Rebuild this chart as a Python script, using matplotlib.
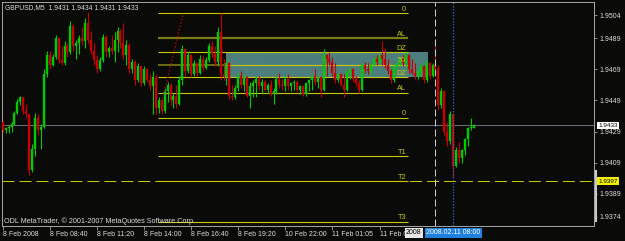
import numpy as np
import matplotlib.pyplot as plt
from matplotlib.patches import Rectangle

plt.rcParams['font.family'] = ['Liberation Sans', 'DejaVu Sans']

BG = '#0a0a08'
GREEN = '#00cc00'
RED = '#c80000'
YELLOW = '#c8c800'
OLIVE = '#7c7c14'
TEAL = '#4d7e7e'
AXIS = '#a0a0a0'
TXT = '#dcdcdc'

# --- M5 candles, pips above 1.9000 (433 -> 1.9433) ---
opens = [435, 430, 431, 432, 434, 441, 448, 451, 442, 440, 404, 418, 438, 430, 432, 466,
         478, 472, 477, 489, 475, 473, 484, 480, 497, 484, 486, 489, 487, 499, 488, 481,
         475, 469, 475, 490, 480, 483, 481, 488, 494, 486, 478, 485, 469, 474, 462, 471,
         460, 469, 462, 458, 464, 444, 449, 442, 455, 459, 449, 452, 447, 462, 482, 468,
         478, 466, 473, 467, 476, 470, 475, 484, 479, 474, 493, 466, 464, 473, 452, 451,
         457, 465, 459, 464, 452, 458, 460, 463, 458, 461, 456, 459, 453, 455, 463, 459,
         458, 463, 458, 460, 461, 456, 458, 453, 460, 462, 465, 461, 464, 456, 478, 476,
         474, 467, 462, 466, 459, 456, 467, 469, 463, 460, 456, 472, 469, 468, 472, 476,
         474, 478, 476, 472, 468, 462, 471, 473, 476, 473, 478, 469, 467, 465, 468, 471,
         462, 473, 465, 472, 470, 446, 455, 429, 423, 440, 407, 417, 412, 417, 424, 431,
         431]
highs = [436, 432, 433, 435, 442, 450, 452, 451, 447, 440, 421, 441, 440, 434, 469, 481,
         481, 479, 491, 490, 484, 487, 486, 500, 498, 488, 491, 496, 502, 506, 494, 486,
         478, 477, 492, 491, 484, 491, 493, 496, 495, 499, 488, 486, 476, 475, 473, 472,
         471, 470, 466, 468, 466, 451, 450, 457, 461, 460, 454, 459, 465, 485, 483, 480,
         479, 475, 474, 478, 478, 477, 486, 487, 484, 496, 505, 476, 476, 474, 459, 459,
         467, 468, 466, 465, 461, 462, 465, 465, 463, 462, 460, 462, 457, 465, 467, 463,
         465, 466, 461, 462, 462, 459, 459, 461, 463, 466, 469, 465, 465, 482, 479, 480,
         477, 473, 467, 467, 466, 468, 470, 470, 465, 462, 474, 474, 473, 473, 477, 478,
         479, 487, 483, 476, 469, 472, 474, 477, 478, 480, 479, 476, 473, 469, 473, 472,
         475, 474, 473, 485, 472, 457, 456, 435, 442, 441, 419, 422, 418, 425, 432, 438,
         434]
lows = [429, 428, 428, 429, 433, 440, 446, 440, 438, 401, 403, 413, 427, 418, 431, 464,
        469, 471, 476, 473, 472, 472, 477, 479, 481, 476, 479, 485, 483, 486, 479, 472,
        467, 468, 474, 477, 477, 479, 474, 480, 483, 476, 472, 467, 467, 459, 461, 458,
        459, 461, 456, 440, 440, 441, 440, 441, 448, 446, 444, 444, 446, 459, 465, 467,
        464, 465, 465, 466, 468, 469, 474, 477, 471, 471, 462, 462, 459, 450, 449, 450,
        455, 457, 455, 451, 444, 451, 451, 456, 454, 455, 454, 452, 447, 453, 457, 456,
        455, 456, 455, 456, 455, 453, 452, 452, 455, 456, 459, 457, 451, 455, 465, 472,
        465, 460, 461, 458, 451, 455, 463, 461, 458, 454, 455, 467, 466, 466, 471, 472,
        473, 472, 470, 466, 460, 461, 469, 471, 471, 469, 467, 466, 463, 463, 464, 460,
        461, 463, 464, 467, 443, 444, 427, 420, 421, 400, 406, 409, 409, 414, 420, 430,
        431]
closes = [430, 431, 432, 434, 441, 448, 451, 442, 440, 404, 418, 438, 430, 432, 466, 478,
          472, 477, 489, 475, 473, 484, 480, 497, 484, 486, 489, 487, 499, 488, 481, 475,
          469, 475, 490, 480, 483, 481, 488, 494, 486, 478, 485, 469, 474, 462, 471, 460,
          469, 462, 458, 464, 444, 449, 442, 455, 459, 449, 452, 447, 462, 482, 468, 478,
          466, 473, 467, 476, 470, 475, 484, 479, 474, 493, 466, 464, 473, 452, 451, 457,
          465, 459, 464, 452, 458, 460, 463, 458, 461, 456, 459, 453, 455, 463, 459, 458,
          463, 458, 460, 461, 456, 458, 453, 460, 462, 465, 461, 464, 456, 478, 476, 474,
          467, 462, 466, 459, 456, 467, 469, 463, 460, 456, 472, 469, 468, 472, 476, 474,
          478, 476, 472, 468, 462, 471, 473, 476, 473, 478, 469, 467, 465, 468, 471, 462,
          473, 465, 472, 470, 446, 455, 429, 423, 440, 407, 417, 412, 417, 424, 431, 432,
          433]

time_tick_bars = [0, 16, 32, 48, 64, 80, 96, 112, 128]
time_labels = ["8 Feb 2008", "8 Feb 08:40", "8 Feb 11:20", "8 Feb 14:00", "8 Feb 16:40",
               "8 Feb 19:20", "10 Feb 22:00", "11 Feb 01:05", "11 Feb 03:45"]
price_ticks = [1.9504, 1.9489, 1.9469, 1.9449, 1.9429, 1.9409, 1.9389, 1.9374]

fib_levels = [1.9505, 1.9489, 1.9480, 1.9472, 1.9464, 1.9454, 1.9438, 1.9413, 1.9397, 1.9371]
fib_names = ["0", "AL", "DZ", "50", "DZ", "AL", "0", "T1", "T2", "T3"]
fib_start, fib_end = 52.75, 137.7
zone_start, zone_end = 75.85, 144.4
trend_bars = [54.1, 61.3]
trend_prices = [1.9448, 1.9505]
dots_bars = [89.8, 125.8]
dots_price = 1.94738
sep_bar = 147
cursor_bar = 153
year_box_bar = 142.3
bid = 1.9433
title = "GBPUSD,M5  1.9431 1.9434 1.9431 1.9433"
footer = "ODL MetaTrader, \u00a9 2001-2007 MetaQuotes Software Corp."

o = 1.9 + np.array(opens) / 1e4
h = 1.9 + np.array(highs) / 1e4
l = 1.9 + np.array(lows) / 1e4
c = 1.9 + np.array(closes) / 1e4
x = np.arange(len(o))

fig = plt.figure(figsize=(6.25, 2.41), dpi=100)
fig.patch.set_facecolor(BG)
ax = fig.add_axes([2 / 625, 15.5 / 241, 592 / 625, 223.5 / 241])
ax.set_facecolor(BG)
ax.set_xlim(-0.24, 200.85)
ax.set_ylim(1.93685, 1.95124)

# candles
cols = np.where(c >= o, GREEN, RED)
ax.vlines(x, l, h, colors=cols, lw=0.8, zorder=4)
ax.vlines(x, np.minimum(o, c), np.maximum(o, c), colors=cols, lw=1.7, zorder=4)

# shaded zone + fib levels
ax.add_patch(Rectangle((zone_start, fib_levels[4]), zone_end - zone_start,
                       fib_levels[2] - fib_levels[4], fc=TEAL, ec='none', zorder=2))
for i, (lvl, name) in enumerate(zip(fib_levels, fib_names)):
    if i == 1:
        ax.hlines(lvl, fib_start, fib_end, color=OLIVE, lw=1.6, zorder=3)
    elif i == 3:
        ax.hlines(lvl, fib_start, zone_start, color=OLIVE, lw=1.2, zorder=3)
        ax.hlines(lvl, zone_start, fib_end, color=YELLOW, lw=0.8, zorder=3)
    else:
        ax.hlines(lvl, fib_start, fib_end, color=YELLOW, lw=0.8, zorder=3)
    ax.annotate(name, (fib_end, lvl), xytext=(-1.4, 0.2), textcoords='offset points',
                ha='right', va='bottom', fontsize=5.3, color=YELLOW, zorder=5)

ax.axhline(fib_levels[8], color=YELLOW, lw=0.75, ls=(0, (11.5, 4.8)), zorder=3)
ax.axhline(bid, color='#6c7080', lw=0.7, zorder=3)
ax.hlines(dots_price, dots_bars[0], dots_bars[1], color='#4a6aa8', lw=0.8,
          ls=(0, (1, 2)), zorder=3)
ax.plot(trend_bars, trend_prices, color='#c00000', lw=0.9, ls=(0, (1.2, 1.6)), zorder=5)
ax.axvline(sep_bar, color='#c8c8c8', lw=0.75, ls=(0, (6.7, 2.9)), zorder=5)
ax.axvline(cursor_bar, color='#2a64b4', lw=0.9, ls=(0, (1.2, 1.2)), zorder=5)

# axes styling
for s in ax.spines.values():
    s.set_color(AXIS)
    s.set_linewidth(0.75)
ax.yaxis.tick_right()
ax.set_yticks(price_ticks, [f"{p:.4f}" for p in price_ticks])
ax.set_xticks(time_tick_bars, time_labels, ha='left')
ax.tick_params(axis='y', direction='out', length=2.5, width=0.6, color=AXIS,
               labelcolor=TXT, labelsize=5.0, pad=1.2)
ax.tick_params(axis='x', direction='out', length=3, width=0.6, color=AXIS,
               labelcolor=TXT, labelsize=5.0, pad=1.2)

# price / time boxes
ty = ax.get_yaxis_transform()
tx = ax.get_xaxis_transform()
ax.text(1.0075, bid, f"{bid:.4f}", transform=ty, ha='left', va='center', fontsize=4.6,
        color='black', bbox=dict(boxstyle='square,pad=0.2', fc='white', ec='none'),
        clip_on=False, zorder=6)
ax.text(1.0075, fib_levels[8], f"{fib_levels[8]:.4f}", transform=ty, ha='left',
        va='center', fontsize=4.6, color='black',
        bbox=dict(boxstyle='square,pad=0.2', fc='#f0f000', ec='none'),
        clip_on=False, zorder=6)
ax.plot([1.003, 1.003], [0.02, 0.244], transform=ax.transAxes, color='#c8c8c8',
        lw=1.5, clip_on=False, zorder=6)
ax.text(cursor_bar, -0.032, "2008.02.11 08:00", transform=tx, ha='center', va='center',
        fontsize=5.0, color='white',
        bbox=dict(boxstyle='square,pad=0.2', fc='#2080e0', ec='none'),
        clip_on=False, zorder=7)
ax.text(year_box_bar, -0.032, "2008", transform=tx, ha='right', va='center',
        fontsize=5.0, color='black',
        bbox=dict(boxstyle='square,pad=0.2', fc='#e8e8e8', ec='none'),
        clip_on=False, zorder=7)

fig.text(5 / 625, 1 - 7.5 / 241, title, ha='left', va='center', fontsize=4.9, color=TXT)
fig.text(4 / 625, 1 - 221 / 241, footer, ha='left', va='center', fontsize=5.2, color=TXT)

fig.savefig('out.png', dpi=100, facecolor=BG)
